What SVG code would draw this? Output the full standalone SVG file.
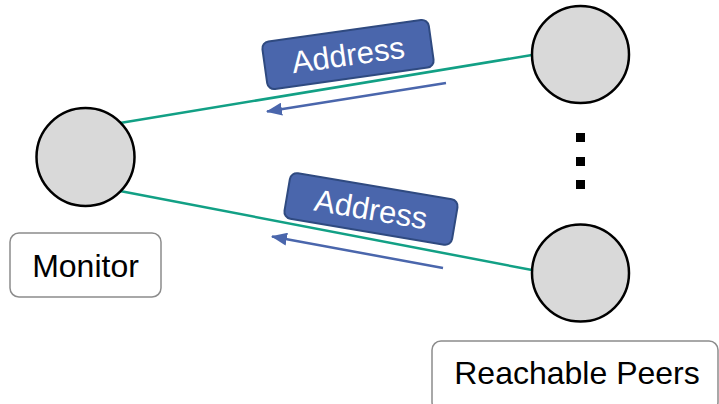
<svg xmlns="http://www.w3.org/2000/svg" width="719" height="404" viewBox="0 0 719 404">
<defs>
<style>
.node{fill:#d9d9d9;stroke:#000;stroke-width:2.5}
.link{stroke:#12a085;stroke-width:2.5;fill:none}
.msg{stroke:#4a66ac;stroke-width:2.5;fill:none}
.tag{fill:#4a66ac;stroke:#2f4a80;stroke-width:2}
.tagtxt{fill:#fff;font-family:"Liberation Sans",Arial,sans-serif;font-size:31px;text-anchor:middle}
.lbl{fill:#fff;stroke:#8c8c8c;stroke-width:1.5}
.lbltxt{fill:#000;font-family:"Liberation Sans",Arial,sans-serif;font-size:32px;text-anchor:middle}
</style>
<marker id="ah" markerWidth="6.4" markerHeight="5.2" refX="6" refY="2.6" orient="auto" markerUnits="strokeWidth">
<path d="M0,0 L6.4,2.6 L0,5.2 z" fill="#4a66ac"/>
</marker>
</defs>
<rect width="719" height="404" fill="#fff"/>
<g id="connectors">
<line class="link" x1="120" y1="123" x2="532" y2="55"/>
<line class="link" x1="120" y1="191" x2="532" y2="270"/>
<line class="msg" x1="446" y1="83" x2="267" y2="111.5" marker-end="url(#ah)"/>
<line class="msg" x1="443" y1="268" x2="272" y2="236.5" marker-end="url(#ah)"/>
</g>
<g id="tag-top" transform="translate(348,54.5) rotate(-8)">
<rect class="tag" x="-84" y="-24" width="168" height="48" rx="7"/>
<text class="tagtxt" x="0" y="11">Address</text>
</g>
<g id="tag-bottom" transform="translate(371,209) rotate(9.6)">
<rect class="tag" x="-85" y="-23" width="170" height="46" rx="7"/>
<text class="tagtxt" x="0" y="11">Address</text>
</g>
<g id="monitor">
<circle class="node" cx="85.5" cy="157" r="49"/>
</g>
<g id="monitor-label">
<rect class="lbl" x="10" y="233" width="151" height="64" rx="9"/>
<text class="lbltxt" x="85.5" y="277">Monitor</text>
</g>
<g id="peer-top">
<circle class="node" cx="580.5" cy="54.5" r="48.5"/>
</g>
<g id="peer-bottom">
<circle class="node" cx="580.5" cy="273" r="48.5"/>
</g>
<g id="ellipsis">
<rect x="576" y="133" width="9" height="9" fill="#000"/>
<rect x="576" y="157" width="9" height="9" fill="#000"/>
<rect x="576" y="180" width="9" height="9" fill="#000"/>
</g>
<g id="peers-label">
<rect class="lbl" x="432" y="341" width="286" height="70" rx="9"/>
<text class="lbltxt" x="577" y="384">Reachable Peers</text>
</g>
</svg>
